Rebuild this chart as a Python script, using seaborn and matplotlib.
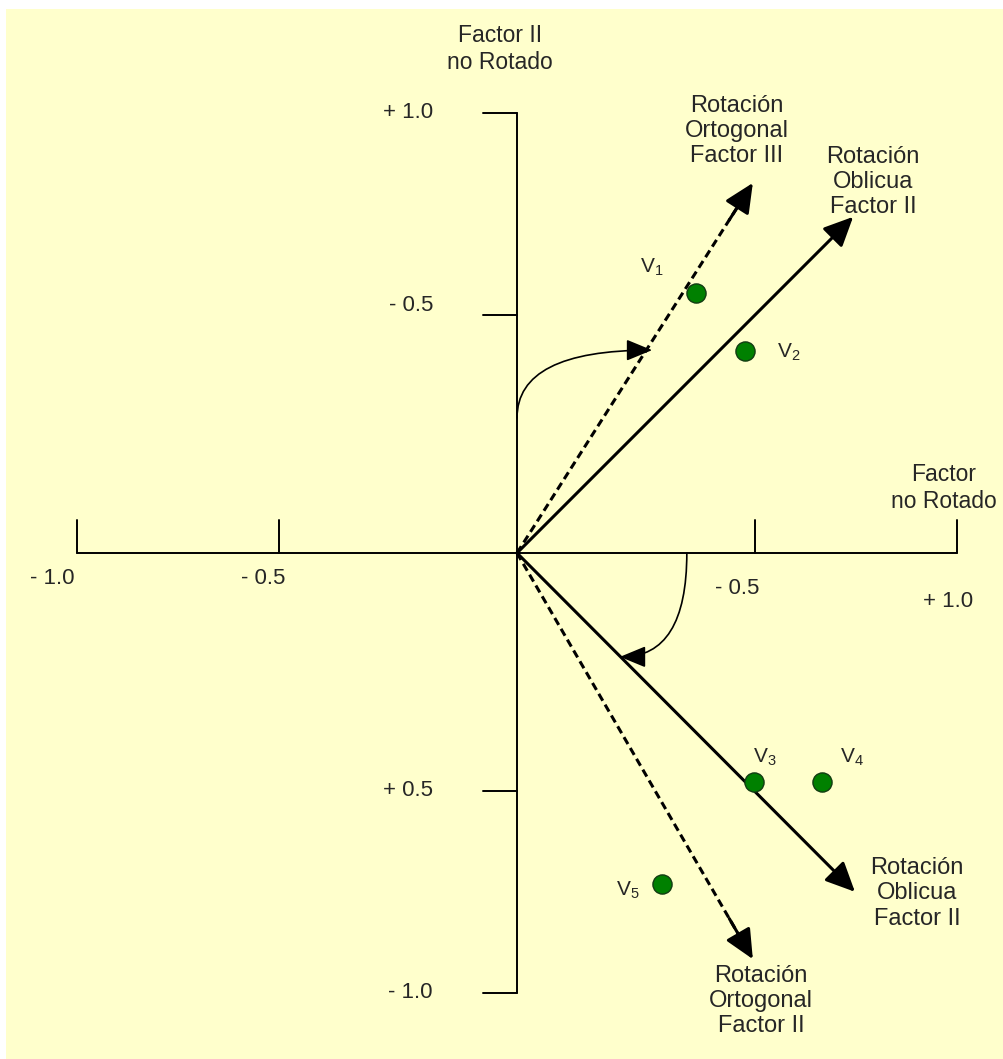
import numpy as np
import pandas as pd
import seaborn as sns
import matplotlib.pyplot as plt

# Variables plotted on the factor plane
var_names = ["1", "2", "3", "4", "5"]
var_x = [0.407, 0.518, 0.539, 0.693, 0.330]
var_y = [0.591, 0.459, -0.520, -0.520, -0.752]

# Rotated factor axes (tips), solid = oblique, dashed = orthogonal
oblique_x = [0.764, 0.768]
oblique_y = [0.764, -0.770]
ortho_x = [0.536, 0.536]
ortho_y = [0.841, -0.923]

# Axis ticks of the unrotated factors
xtick_pos = [-1.0, -0.54, 0.54, 1.0]
xtick_labels = ["- 1.0", "- 0.5", "- 0.5", "+ 1.0"]
ytick_pos = [1.0, 0.54, -0.54, -1.0]
ytick_labels = ["+ 1.0", "- 0.5", "+ 0.5", "- 1.0"]

sns.set_style("white")
plt.rcParams["font.family"] = ["Liberation Sans", "DejaVu Sans"]
plt.rcParams["mathtext.fontset"] = "custom"
plt.rcParams["mathtext.rm"] = "Liberation Sans"

fig = plt.figure(figsize=(10.04, 10.59), dpi=100)
fig.patch.set_facecolor("white")
ax = fig.add_axes([6 / 1004, 0, 998 / 1004, 1050 / 1059])
ax.set_facecolor("#FFFFCC")
ax.set_xlim(-511 / 440, 487 / 440)
ax.set_ylim(-506 / 440, 544 / 440)
ax.set_xticks([])
ax.set_yticks([])
for s in ax.spines.values():
    s.set_visible(False)

# unrotated axes with ticks
ax.plot([-1, 1], [0, 0], color="black", lw=1.4)
ax.plot([0, 0], [-1, 1], color="black", lw=1.4)
for xp in xtick_pos:
    ax.plot([xp, xp], [0, 0.075], color="black", lw=1.4)
for yp in ytick_pos:
    ax.plot([-0.077, 0], [yp, yp], color="black", lw=1.4)

# tick labels
xl_pos = [(-1.057, -0.057), (-0.577, -0.057), (0.50, -0.080), (0.98, -0.111)]
for (tx, ty), lab in zip(xl_pos, xtick_labels):
    ax.text(tx, ty, lab, ha="center", va="center", fontsize=16)
yl_off = [0.0, 0.022, 0.0, 0.0]
for yp, off, lab in zip(ytick_pos, yl_off, ytick_labels):
    ax.text(-0.191, yp + off, lab, ha="right", va="center", fontsize=16)

ax.text(-0.039, 1.145, "Factor II\nno Rotado", ha="center", va="center",
        fontsize=16.5, linespacing=1.2)
ax.text(0.970, 0.148, "Factor\nno Rotado", ha="center", va="center",
        fontsize=16.5, linespacing=1.2)

# oblique rotation (solid arrows)
head = "-|>,head_length=0.9,head_width=0.42"
for tx, ty in zip(oblique_x, oblique_y):
    ax.annotate("", xy=(tx, ty), xytext=(0, 0),
                arrowprops=dict(arrowstyle=head, color="black", lw=2.2,
                                shrinkA=0, shrinkB=0, mutation_scale=20))

# orthogonal rotation (dashed arrows)
for tx, ty in zip(ortho_x, ortho_y):
    ax.plot([0, tx * 0.96], [0, ty * 0.96], color="black", lw=2.2,
            dashes=(2.6, 1.5))
    ax.annotate("", xy=(tx, ty), xytext=(tx * 0.9, ty * 0.9),
                arrowprops=dict(arrowstyle=head, color="black", lw=2.2,
                                shrinkA=0, shrinkB=0, mutation_scale=20))

# curved rotation arrows
curve_head = "-|>,head_length=0.8,head_width=0.33"
ax.annotate("", xy=(0.307, 0.461), xytext=(0, 0.307),
            arrowprops=dict(arrowstyle=curve_head,
                            connectionstyle="angle3,angleA=90,angleB=0",
                            color="black", lw=1.2, shrinkA=0, shrinkB=0,
                            mutation_scale=20))
ax.annotate("", xy=(0.234, -0.236), xytext=(0.386, 0),
            arrowprops=dict(arrowstyle=curve_head,
                            connectionstyle="angle3,angleA=90,angleB=0",
                            color="black", lw=1.2, shrinkA=0, shrinkB=0,
                            mutation_scale=20))

# rotated axis labels
labels = [
    (0.500, 0.959, "Rotación\nOrtogonal\nFactor III"),
    (0.809, 0.843, "Rotación\nOblicua\nFactor II"),
    (0.909, -0.773, "Rotación\nOblicua\nFactor II"),
    (0.555, -1.018, "Rotación\nOrtogonal\nFactor II"),
]
for lx, ly, txt in labels:
    ax.text(lx, ly, txt, ha="center", va="center", fontsize=17, linespacing=1.2)

# variables
df = pd.DataFrame({"x": var_x, "y": var_y, "name": var_names})
sns.scatterplot(data=df, x="x", y="y", s=190, color="#008000",
                edgecolor="#123c12", linewidth=1, ax=ax, zorder=5, legend=False)
ax.set_xlabel("")
ax.set_ylabel("")

vl_pos = [(0.280, 0.650), (0.591, 0.455), (0.536, -0.464), (0.734, -0.464), (0.225, -0.766)]
for (vx, vy), n in zip(vl_pos, var_names):
    ax.text(vx, vy, r"$\mathregular{V_{%s}}$" % n, ha="left", va="center", fontsize=15)

fig.savefig("out.png", dpi=100, facecolor=fig.get_facecolor())
